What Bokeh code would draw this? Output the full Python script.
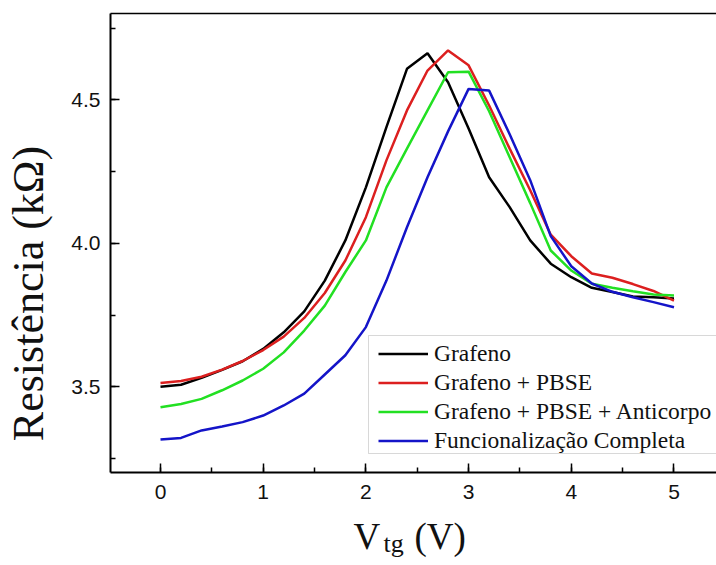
import math
from bokeh.plotting import figure
from bokeh.models import (SingleIntervalTicker, FixedTicker, PrintfTickFormatter, Range1d,
                          Label, Legend, LegendItem, BoxAnnotation, LinearAxis)
from bokeh.embed import file_html
from bokeh.resources import INLINE

# ---- data ----
vtg = [0.0, 0.2, 0.4, 0.6, 0.8, 1.0, 1.2, 1.4, 1.6, 1.8, 2.0, 2.2, 2.4,
       2.6, 2.8, 3.0, 3.2, 3.4, 3.6, 3.8, 4.0, 4.2, 4.4, 4.6, 4.8, 5.0]

grafeno = [3.500, 3.507, 3.531, 3.559, 3.589, 3.632, 3.690, 3.763, 3.870, 4.010,
           4.195, 4.405, 4.608, 4.662, 4.561, 4.400, 4.230, 4.126, 4.010, 3.929,
           3.882, 3.845, 3.830, 3.815, 3.812, 3.808]

grafeno_pbse = [3.513, 3.520, 3.535, 3.560, 3.590, 3.628, 3.675, 3.740, 3.827, 3.940,
                4.091, 4.289, 4.463, 4.602, 4.672, 4.620, 4.480, 4.330, 4.185, 4.030,
                3.955, 3.895, 3.880, 3.858, 3.834, 3.800]

grafeno_pbse_ac = [3.429, 3.440, 3.458, 3.488, 3.522, 3.563, 3.620, 3.696, 3.783, 3.900,
                   4.010, 4.195, 4.330, 4.463, 4.596, 4.598, 4.460, 4.300, 4.140, 3.975,
                   3.905, 3.859, 3.845, 3.833, 3.822, 3.818]

funcional = [3.316, 3.322, 3.348, 3.362, 3.377, 3.400, 3.435, 3.476, 3.543, 3.610,
             3.708, 3.870, 4.056, 4.230, 4.390, 4.538, 4.532, 4.380, 4.220, 4.025,
             3.920, 3.860, 3.831, 3.812, 3.795, 3.777]

series_names = ["Grafeno", "Grafeno + PBSE", "Grafeno + PBSE + Anticorpo",
                "Funcionalização Completa"]
series_values = [grafeno, grafeno_pbse, grafeno_pbse_ac, funcional]
series_colors = ["#000000", "#dc1f1f", "#22e022", "#1414c8"]

y_title = "Resistência (kΩ)"
x_title_main = "V"
x_title_sub = "tg"
x_title_unit = "(V)"

SERIF = "Liberation Serif"
SANS = "Liberation Sans"

# axis box (data units): left/right of x axis, bottom/top of y axis
X_LO, X_HI = -0.487, 5.414
Y_LO, Y_HI = 3.2, 4.8

# The frame covers the whole canvas; axes sit at fixed locations so that the
# titles (which live inside the frame) are not clipped.
p = figure(width=716, height=565, output_backend="svg", toolbar_location=None,
           x_range=Range1d(-1.558, 5.414), y_range=Range1d(2.8774, 4.846),
           min_border_left=0, min_border_right=0, min_border_top=0,
           min_border_bottom=0)
p.background_fill_color = "white"
p.border_fill_color = "white"
p.outline_line_color = None
p.xgrid.visible = False
p.ygrid.visible = False

renderers = []
for vals, col in zip(series_values, series_colors):
    r = p.line(vtg, vals, line_color=col, line_width=2.5)
    renderers.append(r)

for ax in (p.xaxis[0], p.yaxis[0]):
    ax.axis_line_width = 2
    ax.axis_line_color = "black"
    ax.major_tick_in = 9
    ax.major_tick_out = 0
    ax.minor_tick_in = 5
    ax.minor_tick_out = 0
    ax.major_tick_line_width = 1.5
    ax.minor_tick_line_width = 1.5
    ax.major_tick_line_color = "black"
    ax.minor_tick_line_color = "black"
    ax.major_label_text_font = SANS
    ax.major_label_text_font_size = "21px"
    ax.major_label_text_color = "#111111"
    ax.axis_label = None

p.xaxis[0].ticker = SingleIntervalTicker(interval=1, num_minor_ticks=2)
p.yaxis[0].ticker = SingleIntervalTicker(interval=0.5, num_minor_ticks=2)
p.yaxis[0].formatter = PrintfTickFormatter(format="%.1f")
p.xaxis[0].major_label_standoff = 12
p.yaxis[0].major_label_standoff = 10
p.xaxis[0].fixed_location = Y_LO
p.xaxis[0].bounds = (X_LO, X_HI)
p.yaxis[0].fixed_location = X_LO
p.yaxis[0].bounds = (Y_LO, Y_HI)

# top border of the axis box
top = LinearAxis(fixed_location=Y_HI, bounds=(X_LO, X_HI), ticker=FixedTicker(ticks=[]),
                 axis_line_width=1.5, axis_line_color="black",
                 major_tick_line_color=None, minor_tick_line_color=None,
                 major_label_text_font_size="0px", axis_label=None)
p.add_layout(top, "above")

# axis titles (screen units = canvas, y measured from bottom)
p.add_layout(Label(x=28, y=272, x_units="screen", y_units="screen", text=y_title,
                   angle=math.pi / 2, text_align="center", text_baseline="middle",
                   text_font=SERIF, text_font_size="44px", text_color="#111111"))
p.add_layout(Label(x=353, y=29, x_units="screen", y_units="screen", text=x_title_main,
                   text_align="left", text_baseline="alphabetic", text_font=SERIF,
                   text_font_size="37px", text_color="#111111"))
p.add_layout(Label(x=383, y=22, x_units="screen", y_units="screen", text=x_title_sub,
                   text_align="left", text_baseline="alphabetic", text_font=SERIF,
                   text_font_size="26px", text_color="#111111"))
p.add_layout(Label(x=414, y=29, x_units="screen", y_units="screen", text=x_title_unit,
                   text_align="left", text_baseline="alphabetic", text_font=SERIF,
                   text_font_size="37px", text_color="#111111"))

# legend box + legend
p.add_layout(BoxAnnotation(left=368, right=760, bottom=112, top=230,
                           left_units="screen", right_units="screen",
                           top_units="screen", bottom_units="screen",
                           fill_color="white", fill_alpha=1.0,
                           line_color="#7f7f7f", line_width=1))
legend = Legend(items=[LegendItem(label=n, renderers=[r]) for n, r in zip(series_names, renderers)],
                location=(378, 110), padding=0, margin=0, spacing=0,
                glyph_width=50, glyph_height=29, label_height=29, label_standoff=6,
                label_text_font=SERIF, label_text_font_size="23.5px",
                label_text_color="#111111",
                border_line_color=None, background_fill_alpha=0)
p.add_layout(legend)

open("out.html", "w").write(file_html(p, INLINE))
